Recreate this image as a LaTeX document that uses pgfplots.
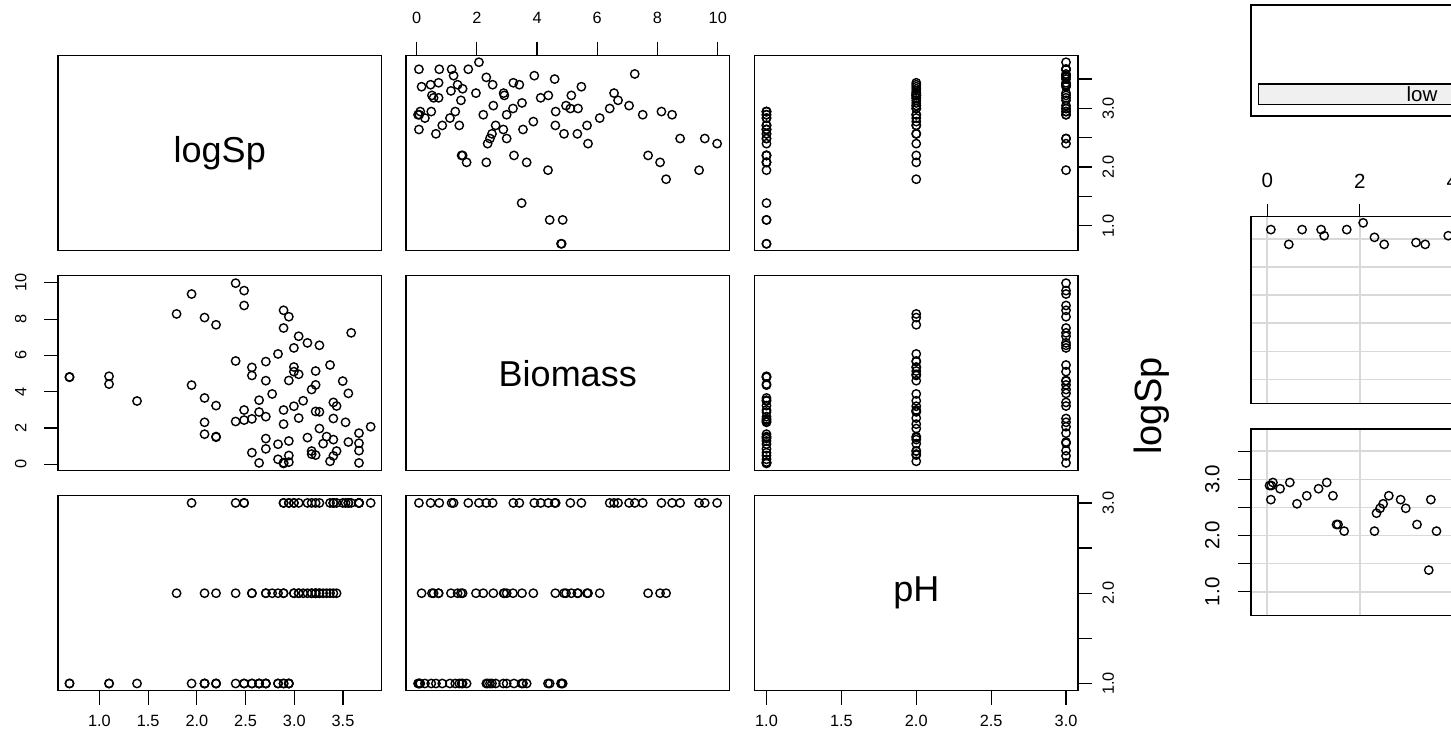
\documentclass[border=0pt]{standalone}
\usepackage{fontspec}
\setmainfont{Liberation Sans}
\usepackage{pgfplots}
\usepackage{pgfplotstable}
\pgfplotsset{compat=1.18}

% Biomass (B), log species richness (L), pH level (P: 1 low, 2 mid, 3 high)
\pgfplotstableread{
B L P
0.090 2.890 1
0.123 2.944 1
0.050 2.890 1
0.079 2.639 1
0.278 2.833 1
0.488 2.944 1
0.643 2.565 1
0.854 2.708 1
1.109 2.833 1
1.286 2.944 1
1.419 2.708 1
1.496 2.197 1
1.529 2.197 1
1.662 2.079 1
2.316 2.079 1
2.360 2.398 1
2.437 2.485 1
2.504 2.565 1
2.626 2.708 1
2.881 2.639 1
2.992 2.485 1
3.235 2.197 1
3.489 1.386 1
3.534 2.639 1
3.656 2.079 1
4.364 1.946 1
4.420 1.099 1
4.852 1.099 1
4.796 0.693 1
4.818 0.693 1
}\lowtab
\pgfplotstableread{
B L P
0.167 3.367 2
0.732 3.434 2
0.511 3.219 2
0.566 3.178 2
0.732 3.178 2
1.142 3.296 2
1.363 3.401 2
1.529 3.332 2
1.474 3.135 2
1.972 3.258 2
2.891 3.258 2
2.914 3.219 2
2.216 2.890 2
2.549 3.045 2
2.992 2.890 2
3.202 2.996 2
3.501 3.091 2
3.877 2.773 2
4.608 2.708 2
4.896 2.565 2
5.339 2.565 2
5.660 2.708 2
5.693 2.398 2
6.081 2.833 2
7.687 2.197 2
8.085 2.079 2
8.285 1.792 2
4.962 3.045 2
5.139 3.219 2
5.361 2.996 2
}\midtab
\pgfplotstableread{
B L P
0.079 3.664 3
0.754 3.664 3
1.164 3.664 3
1.230 3.555 3
1.718 3.664 3
2.072 3.784 3
0.466 3.401 3
2.316 3.526 3
2.526 3.401 3
3.213 3.434 3
3.412 3.401 3
3.910 3.555 3
4.585 3.497 3
4.121 3.178 3
4.375 3.219 3
5.472 3.367 3
6.557 3.258 3
6.690 3.135 3
7.244 3.584 3
4.619 2.944 3
5.106 2.996 3
6.413 2.996 3
7.056 3.045 3
7.509 2.890 3
8.130 2.944 3
8.484 2.890 3
8.750 2.485 3
9.569 2.485 3
9.979 2.398 3
9.381 1.946 3
}\hightab

\newcommand\tfont{\fontsize{16.3pt}{19pt}\selectfont}
\newcommand\cfont{\fontsize{20.5pt}{24pt}\selectfont}
\newcommand\dfont{\fontsize{36pt}{42pt}\selectfont}

\pgfplotsset{
  panel/.style={scale only axis, width=323.5pt, height=195pt,
    anchor=north west,
    axis line style={line width=1.2pt, black},
    tick style={line width=1.2pt, black},
    major tick length=14pt, tick align=outside,
    xtick=\empty, ytick=\empty,
    ticklabel style={font=\tfont},
    clip=false},
  cpanel/.style={scale only axis, width=497.3pt, height=186.7pt,
    anchor=north west,
    xmin=-0.35, xmax=10.39, ymin=0.575, ymax=3.895,
    axis line style={line width=1.2pt, black},
    tick style={line width=1.2pt, black},
    major tick length=13pt, tick align=outside,
    grid=major, grid style={line width=1.5pt, color=black!15},
    xtick={0,2,4,6,8,10}, ytick={1,1.5,2,2.5,3,3.5},
    ticklabel style={font=\cfont},
    clip=false},
  pts/.style={only marks, mark=o, mark size=4.2pt, black,
    mark options={line width=1.4pt}},
  Lx/.style={xmin=0.575, xmax=3.895},
  Ly/.style={ymin=0.575, ymax=3.895},
  Bx/.style={xmin=-0.35, xmax=10.39},
  By/.style={ymin=-0.35, ymax=10.39},
  Px/.style={xmin=0.92, xmax=3.08},
  Py/.style={ymin=0.92, ymax=3.08},
}

\begin{document}
\begin{tikzpicture}
\useasboundingbox (0pt,0pt) rectangle (1451pt,-742pt);
\clip (0pt,0pt) rectangle (1451pt,-742pt);

% ---------- row 1 ----------
\begin{axis}[panel, at={(58pt,-55.7pt)}, xmin=0, xmax=1, ymin=0, ymax=1]
\node[font=\dfont] at (axis cs:0.5,0.5) {logSp};
\end{axis}

\begin{axis}[panel, at={(406pt,-55.7pt)}, Bx, Ly,
  xtick={0,2,4,6,8,10}, xtick pos=right, xticklabel pos=right,
  xticklabels={0,2,4,6,8,10}, xticklabel shift=15pt]
\addplot[pts] table[x=B,y=L] {\lowtab};
\addplot[pts] table[x=B,y=L] {\midtab};
\addplot[pts] table[x=B,y=L] {\hightab};
\end{axis}

\begin{axis}[panel, at={(754.5pt,-55.7pt)}, Px, Ly,
  ytick={1,1.5,2,2.5,3,3.5}, yticklabels={1.0,,2.0,,3.0,},
  ytick pos=right, yticklabel pos=right, yticklabel shift=7pt,
  yticklabel style={rotate=90, anchor=north}]
\addplot[pts] table[x=P,y=L] {\lowtab};
\addplot[pts] table[x=P,y=L] {\midtab};
\addplot[pts] table[x=P,y=L] {\hightab};
\end{axis}

% ---------- row 2 ----------
\begin{axis}[panel, at={(58pt,-275.7pt)}, Lx, By,
  ytick={0,2,4,6,8,10}, yticklabels={0,2,4,6,8,10},
  ytick pos=left, yticklabel pos=left, yticklabel shift=14pt,
  yticklabel style={rotate=90, anchor=south}]
\addplot[pts] table[x=L,y=B] {\lowtab};
\addplot[pts] table[x=L,y=B] {\midtab};
\addplot[pts] table[x=L,y=B] {\hightab};
\end{axis}

\begin{axis}[panel, at={(406pt,-275.7pt)}, xmin=0, xmax=1, ymin=0, ymax=1]
\node[font=\dfont] at (axis cs:0.5,0.5) {Biomass};
\end{axis}

\begin{axis}[panel, at={(754.5pt,-275.7pt)}, Px, By]
\addplot[pts] table[x=P,y=B] {\lowtab};
\addplot[pts] table[x=P,y=B] {\midtab};
\addplot[pts] table[x=P,y=B] {\hightab};
\end{axis}

% ---------- row 3 ----------
\begin{axis}[panel, at={(58pt,-495.7pt)}, Lx, Py,
  xtick={1,1.5,2,2.5,3,3.5}, xticklabels={1.0,1.5,2.0,2.5,3.0,3.5},
  xtick pos=left, xticklabel pos=left, xticklabel shift=7pt]
\addplot[pts] table[x=L,y=P] {\lowtab};
\addplot[pts] table[x=L,y=P] {\midtab};
\addplot[pts] table[x=L,y=P] {\hightab};
\end{axis}

\begin{axis}[panel, at={(406pt,-495.7pt)}, Bx, Py]
\addplot[pts] table[x=B,y=P] {\lowtab};
\addplot[pts] table[x=B,y=P] {\midtab};
\addplot[pts] table[x=B,y=P] {\hightab};
\end{axis}

\begin{axis}[panel, at={(754.5pt,-495.7pt)}, Px, Py,
  xtick={1,1.5,2,2.5,3}, xticklabels={1.0,1.5,2.0,2.5,3.0},
  xtick pos=left, xticklabel pos=left, xticklabel shift=7pt,
  ytick={1,1.5,2,2.5,3}, yticklabels={1.0,,2.0,,3.0},
  ytick pos=right, yticklabel pos=right, yticklabel shift=7pt,
  yticklabel style={rotate=90, anchor=north}]
\node[font=\dfont] at (axis cs:2,2) {pH};
\end{axis}

% ---------- coplot: given panel ----------
\draw[line width=1.2pt] (1251pt,-5pt) rectangle (1748pt,-116pt);
\draw[line width=1.2pt, fill=black!6] (1258.7pt,-84pt) rectangle (1585pt,-104.7pt);
\node[font=\cfont] at (1422pt,-94.5pt) {low};

% ---------- coplot: pH high (upper panel) ----------
\begin{axis}[cpanel, at={(1251pt,-216.6pt)},
  xtick pos=right, xticklabel pos=right, xticklabels={0,2,4,6,8,10},
  xticklabel shift=12pt,
  yticklabels={}, ytick style={draw=none}]
\addplot[pts] table[x=B,y=L] {\hightab};
\end{axis}

% ---------- coplot: pH low (lower panel) ----------
\begin{axis}[cpanel, at={(1251pt,-429pt)},
  xticklabels={}, xtick style={draw=none},
  ytick pos=left, yticklabel pos=left, yticklabel shift=15pt,
  yticklabels={1.0,,2.0,,3.0,},
  yticklabel style={rotate=90, anchor=south}]
\addplot[pts] table[x=B,y=L] {\lowtab};
\end{axis}

\node[font=\fontsize{38pt}{44pt}\selectfont, rotate=90] at (1152pt,-406pt) {logSp};
\end{tikzpicture}
\end{document}
